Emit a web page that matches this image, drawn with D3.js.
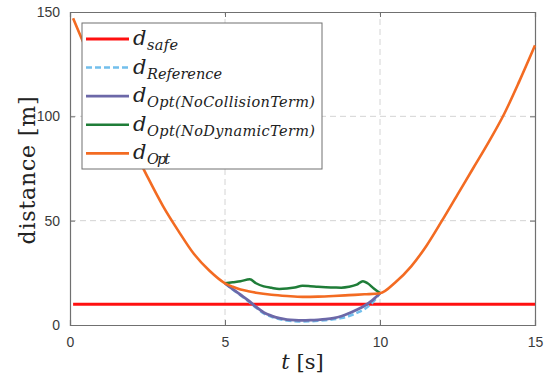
<!DOCTYPE html>
<html>
<head>
<meta charset="utf-8">
<script src="https://cdn.jsdelivr.net/npm/d3@7"></script>
<style>
  body { margin: 0; background: #fff; }
  svg { display: block; }
  .tick text { font-family: "Liberation Sans", Arial, sans-serif; font-size: 14px; fill: #3a3a3a; }
  .lbl { font-family: "DejaVu Serif", serif; fill: #222; }
</style>
</head>
<body>
<div id="chart"></div>
<script>
// d_safe (constant)
const safeT = [0.1, 15];
const safeV = [10, 10];

// d_Opt over the whole run
const optT = [0.1, 0.5, 1.0, 1.5, 2.0, 2.5, 3.0, 3.5, 4.0, 4.5, 5.0,
              5.25, 5.5, 5.75, 6.0, 6.5, 7.0, 7.5, 8.0, 8.5, 9.0, 9.5, 10.0,
              10.5, 11.0, 11.5, 12.0, 12.5, 13.0, 13.5, 14.0, 14.5, 15.0];
const optV = [147, 133, 117, 101, 86, 71, 57, 45, 34, 26, 20,
              18.3, 17.0, 16.2, 15.5, 14.5, 13.9, 13.5, 13.6, 13.9, 14.3, 14.7, 15.2,
              20.5, 28, 38, 50, 62.5, 75, 87.5, 101, 117, 134];

// middle section, 5..10 s
const midT = [5.0, 5.25, 5.5, 5.75, 6.0, 6.25, 6.5, 6.75, 7.0, 7.25, 7.5, 7.75,
              8.0, 8.25, 8.5, 8.75, 9.0, 9.25, 9.5, 9.75, 10.0];
const refV = [20, 17, 14.2, 11.4, 8.3, 5.6, 3.9, 2.8, 2.1, 1.8, 1.7, 1.8,
              2.0, 2.3, 2.7, 3.3, 4.3, 5.8, 7.6, 10.6, 15.2];
const noCollV = [20, 17.2, 14.5, 11.8, 8.7, 6.0, 4.4, 3.3, 2.6, 2.3, 2.2, 2.3,
                 2.5, 2.8, 3.3, 4.2, 5.6, 7.3, 9.2, 11.8, 15.2];

const noDynT = [5.0, 5.25, 5.5, 5.8, 6.0, 6.25, 6.5, 6.75, 7.0, 7.25, 7.5, 7.75,
                8.0, 8.25, 8.5, 8.75, 9.0, 9.25, 9.45, 9.6, 9.8, 10.0];
const noDynV = [20, 20.5, 21, 21.9, 20, 18.5, 17.8, 17.3, 17.5, 18.0, 18.8, 18.6,
                18.3, 18.1, 18.0, 17.9, 18.3, 19.3, 21, 20, 17.5, 15.3];

const legendSubs = ["safe", "Reference", "Opt(NoCollisionTerm)", "Opt(NoDynamicTerm)", "Opt"];

const xTicks = [0, 5, 10, 15];
const yTicks = [0, 50, 100, 150];

const width = 550, height = 382;
const svg = d3.select("#chart").append("svg")
    .attr("width", width)
    .attr("height", height);

const x = d3.scaleLinear().domain([0, 15]).range([70, 535]);
const y = d3.scaleLinear().domain([0, 150]).range([325, 12]);

// grid
const grid = svg.append("g")
    .attr("stroke", "#d4d4d4")
    .attr("stroke-width", 1)
    .attr("stroke-dasharray", "6,4");
grid.selectAll(".gx").data(xTicks.slice(1, -1)).enter().append("line")
    .attr("x1", d => x(d)).attr("x2", d => x(d))
    .attr("y1", y(0)).attr("y2", y(150));
grid.selectAll(".gy").data(yTicks.slice(1, -1)).enter().append("line")
    .attr("y1", d => y(d)).attr("y2", d => y(d))
    .attr("x1", x(0)).attr("x2", x(15));

// axes (ticks inward, like matlab)
const axColor = "#707070";
svg.append("g").attr("transform", `translate(0,${y(0)})`)
    .call(d3.axisBottom(x).tickValues(xTicks).tickSize(-5).tickPadding(12));
svg.append("g").attr("transform", `translate(${x(0)},0)`)
    .call(d3.axisLeft(y).tickValues(yTicks).tickSize(-5).tickPadding(10));
svg.append("g").attr("transform", `translate(0,${y(150)})`)
    .call(d3.axisTop(x).tickValues(xTicks).tickSize(-5).tickFormat(""));
svg.append("g").attr("transform", `translate(${x(15)},0)`)
    .call(d3.axisRight(y).tickValues(yTicks).tickSize(-5).tickFormat(""));
svg.selectAll(".domain").attr("stroke", axColor).attr("stroke-width", 1.2);
svg.selectAll(".tick line").attr("stroke", axColor);

// lines
const line = (ts) => d3.line()
    .x((d, i) => x(ts[i]))
    .y(d => y(d))
    .curve(d3.curveMonotoneX);

const series = [
    { t: safeT, v: safeV, color: "#ff1010", w: 3, dash: null },
    { t: midT, v: refV, color: "#72bfec", w: 2.5, dash: "6,3" },
    { t: midT, v: noCollV, color: "#6c68a8", w: 2.8, dash: null },
    { t: noDynT, v: noDynV, color: "#1f7d38", w: 2.5, dash: null },
    { t: optT, v: optV, color: "#f36b22", w: 2.6, dash: null }
];

series.forEach(s => {
    svg.append("path")
        .datum(s.v)
        .attr("fill", "none")
        .attr("stroke", s.color)
        .attr("stroke-width", s.w)
        .attr("stroke-dasharray", s.dash)
        .attr("d", line(s.t));
});

// legend (latex-ish math text; widths stretched to match computer modern)
const subWidth = [31, 75, 168, 168, 23];
const legend = svg.append("g");
legend.append("rect")
    .attr("x", 82).attr("y", 23)
    .attr("width", 240).attr("height", 146)
    .attr("fill", "#fff")
    .attr("stroke", axColor)
    .attr("stroke-width", 1);

legendSubs.forEach((sub, i) => {
    const s = series[i];
    const cy = 39 + i * 28.6;
    legend.append("line")
        .attr("x1", 86).attr("x2", 129)
        .attr("y1", cy).attr("y2", cy)
        .attr("stroke", s.color)
        .attr("stroke-width", s.w)
        .attr("stroke-dasharray", s.dash);
    legend.append("text")
        .attr("class", "lbl")
        .attr("x", 133).attr("y", cy + 6)
        .attr("font-style", "italic")
        .attr("font-size", 21)
        .text("d");
    legend.append("text")
        .attr("class", "lbl")
        .attr("x", 147).attr("y", cy + 11)
        .attr("font-style", "italic")
        .attr("font-size", 14.5)
        .attr("textLength", subWidth[i])
        .attr("lengthAdjust", "spacing")
        .text(sub);
});

// axis labels
svg.append("text")
    .attr("class", "lbl")
    .attr("transform", `translate(35,${(y(0) + y(150)) / 2 + 2}) rotate(-90)`)
    .attr("text-anchor", "middle")
    .attr("font-size", 22)
    .attr("textLength", 148)
    .attr("lengthAdjust", "spacing")
    .text("distance [m]");

const xl = svg.append("text")
    .attr("class", "lbl")
    .attr("x", (x(0) + x(15)) / 2)
    .attr("y", 369)
    .attr("text-anchor", "middle")
    .attr("font-size", 21);
xl.append("tspan").attr("font-style", "italic").text("t");
xl.append("tspan").text(" [s]");
</script>
</body>
</html>
